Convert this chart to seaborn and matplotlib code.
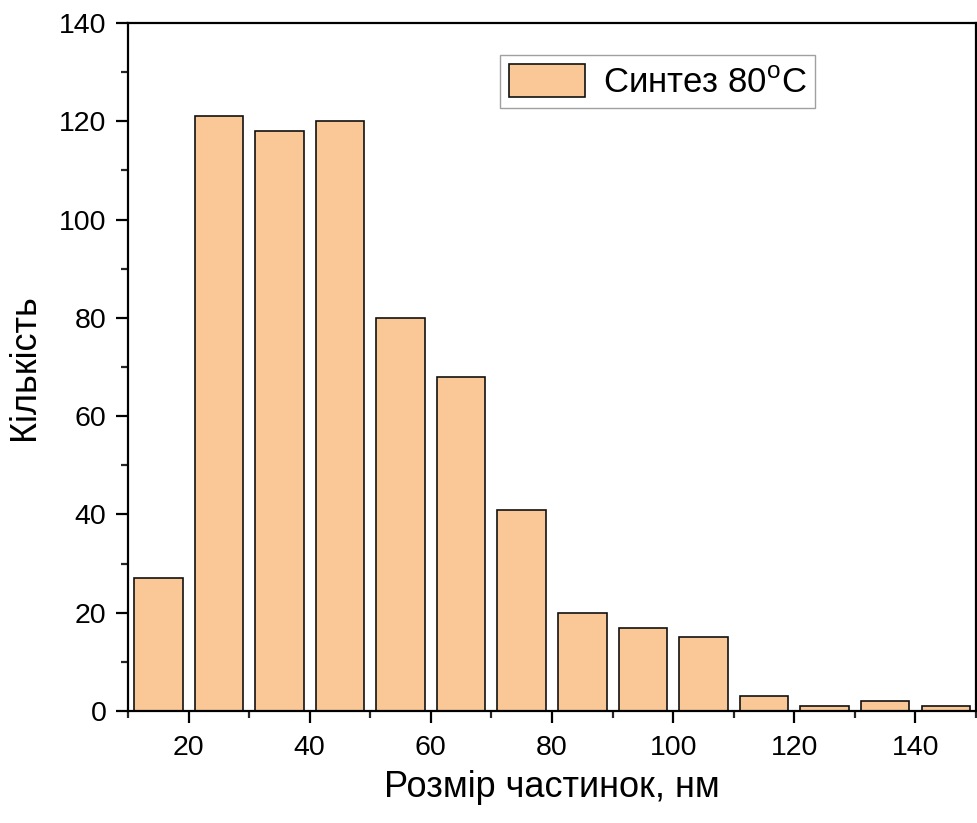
import numpy as np
import pandas as pd
import matplotlib
matplotlib.use("Agg")
import matplotlib.pyplot as plt
from matplotlib.ticker import MultipleLocator
import seaborn as sns

# Particle size distribution (bin centres in nm and counts per bin)
size_centres = [15, 25, 35, 45, 55, 65, 75, 85, 95, 105, 115, 125, 135, 145]
counts = [27, 121, 118, 120, 80, 68, 41, 20, 17, 15, 3, 1, 2, 1]
bin_edges = list(range(10, 151, 10))

x_label = "Розмір частинок, нм"
y_label = "Кількість"
legend_label = "Синтез 80$^\\mathrm{o}$C"

sns.set_theme(style="ticks")
plt.rcParams["font.family"] = ["Liberation Sans", "DejaVu Sans"]
plt.rcParams["mathtext.fontset"] = "custom"
plt.rcParams["mathtext.rm"] = "Liberation Sans"
plt.rcParams["text.color"] = "black"
plt.rcParams["axes.labelcolor"] = "black"

df = pd.DataFrame({"size": size_centres, "count": counts})

fig = plt.figure(figsize=(9.77, 8.23), dpi=100)
ax = fig.add_axes([0.131, 0.136, 0.868, 0.836])

sns.histplot(data=df, x="size", weights="count", bins=bin_edges, shrink=0.8,
             color="#FAC796", alpha=1.0, edgecolor="#111111", linewidth=1.2,
             label=legend_label, ax=ax)

ax.set_xlim(10, 150)
ax.set_ylim(0, 140)
ax.xaxis.set_major_locator(MultipleLocator(20))
ax.xaxis.set_minor_locator(MultipleLocator(10))
ax.yaxis.set_major_locator(MultipleLocator(20))
ax.yaxis.set_minor_locator(MultipleLocator(10))

for side in ["left", "bottom", "top", "right"]:
    ax.spines[side].set_linewidth(1.6)
    ax.spines[side].set_color("black")

ax.tick_params(which="major", direction="out", length=8.5, width=1.6,
               labelsize=20.5, colors="black", top=False, right=False)
ax.tick_params(axis="x", which="major", pad=9)
ax.tick_params(axis="y", which="major", pad=7)
ax.tick_params(which="minor", direction="out", length=5, width=1.6,
               top=False, right=False)

ax.set_xlabel(x_label, fontsize=26, labelpad=6)
ax.set_ylabel(y_label, fontsize=26, labelpad=12)

leg = ax.legend(loc="upper left", bbox_to_anchor=(0.439, 0.953), fontsize=25,
                frameon=True, fancybox=False, edgecolor="#888888",
                handlelength=2.2, handleheight=1.1, borderpad=0.25,
                borderaxespad=0, handletextpad=0.5)
leg.get_frame().set_linewidth(1.0)

fig.savefig("out.png", dpi=100)
